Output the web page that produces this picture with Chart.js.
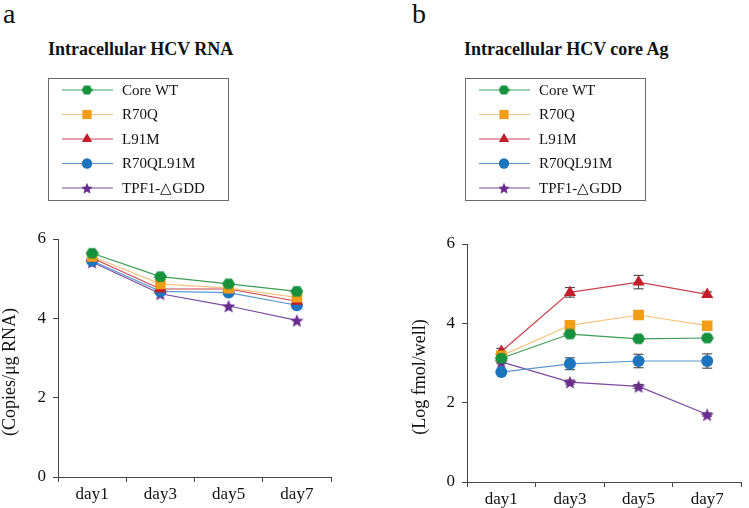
<!DOCTYPE html>
<html>
<head>
<meta charset="utf-8">
<script src="https://cdn.jsdelivr.net/npm/chart.js@4.4.1/dist/chart.umd.min.js"></script>
<style>
  body { margin: 0; background: #fff; }
  #wrap { position: relative; width: 749px; height: 508px; overflow: hidden; background: #fff; }
  canvas { position: absolute; top: 0; }
  .lbl { position: absolute; font-family: "Liberation Serif", "Times New Roman", serif; color: #111; line-height: 1; white-space: nowrap; }
  .letter { font-size: 28px; }
  .ttl { font-size: 18px; font-weight: bold; }
</style>
</head>
<body>
<div id="wrap">
  <div class="lbl letter" style="left:3px; top:0px;">a</div>
  <div class="lbl letter" style="left:412px; top:0px;">b</div>
  <div class="lbl ttl" style="left:48px; top:40px;">Intracellular HCV RNA</div>
  <div class="lbl ttl" style="left:464px; top:40px;">Intracellular HCV core Ag</div>
  <canvas id="chartA" width="374" height="508" style="left:0px;"></canvas>
  <canvas id="chartB" width="369" height="508" style="left:380px;"></canvas>
</div>
<script>
// ============================================================================
// Data
// ============================================================================
const days = ['day1', 'day3', 'day5', 'day7'];
const seriesNames = ['Core WT', 'R70Q', 'L91M', 'R70QL91M', 'TPF1-\u25B3GDD'];
const yTicks = [0, 2, 4, 6];

// panel a - intracellular HCV RNA
const rnaCoreWT   = [5.64, 5.05, 4.87, 4.68];
const rnaR70Q     = [5.56, 4.87, 4.76, 4.53];
const rnaL91M     = [5.52, 4.74, 4.74, 4.43];
const rnaR70QL91M = [5.45, 4.68, 4.65, 4.33];
const rnaTPF1     = [5.42, 4.62, 4.31, 3.95];

// panel b - intracellular HCV core Ag (mean, error)
const agCoreWT   = [3.12, 3.73, 3.61, 3.63];
const agR70Q     = [3.18, 3.95, 4.21, 3.94];
const agL91M     = [3.29, 4.78, 5.04, 4.73];
const agR70QL91M = [2.77, 2.98, 3.05, 3.05];
const agTPF1     = [3.03, 2.52, 2.41, 1.70];

const errCoreWT   = [0.05, 0.07, 0.07, 0.06];
const errR70Q     = [0.05, 0.07, 0.06, 0.10];
const errL91M     = [0.08, 0.12, 0.17, 0.06];
const errR70QL91M = [0.04, 0.15, 0.17, 0.18];
const errTPF1     = [0.04, 0.05, 0.05, 0.04];

// ============================================================================
// Styles
// ============================================================================
const markerColors = ['#16923e', '#f39c16', '#c21d2b', '#1b74bd', '#6a2c8e'];
const lineColors   = ['#3c9d55', '#f7c27c', '#c9434f', '#5b97cf', '#7b4a9f'];
const FONT = '"Liberation Serif", "Times New Roman", serif';
const AXIS = '#444';

function makeMarker(kind, color, size) {
    const c = document.createElement('canvas');
    c.width = size; c.height = size;
    const g = c.getContext('2d');
    const r = size / 2;
    g.fillStyle = color;
    g.beginPath();
    if (kind === 'hex') {
        for (let i = 0; i < 6; i++) {
            const a = Math.PI / 3 * i;
            g.lineTo(r + r * Math.cos(a), r + r * 0.95 * Math.sin(a));
        }
    } else if (kind === 'star') {
        for (let i = 0; i < 10; i++) {
            const a = -Math.PI / 2 + Math.PI / 5 * i;
            const rr = i % 2 === 0 ? r : r * 0.45;
            g.lineTo(r + rr * Math.cos(a), r + 0.8 + rr * Math.sin(a));
        }
    }
    g.closePath();
    g.fill();
    return c;
}

// marker style + radius per series
function pointStyles(hexSize, starSize) {
    return [makeMarker('hex', markerColors[0], hexSize), 'rect', 'triangle', 'circle', makeMarker('star', markerColors[4], starSize)];
}
const chartRadius  = [6, 7.5, 7, 6, 6];
const legendRadius = [5, 6.5, 6, 5.2, 5];

// ============================================================================
// Plugins
// ============================================================================
const errorBarPlugin = {
    id: 'errorBars',
    beforeDatasetsDraw(chart, args, opts) {
        if (!opts.errors) return;
        const ctx = chart.ctx;
        const y = chart.scales.y;
        ctx.save();
        ctx.strokeStyle = '#333';
        ctx.lineWidth = 1;
        chart.data.datasets.forEach((ds, di) => {
            const errs = opts.errors[di];
            chart.getDatasetMeta(di).data.forEach((pt, i) => {
                const v = ds.data[i];
                const top = y.getPixelForValue(v + errs[i]);
                const bot = y.getPixelForValue(v - errs[i]);
                ctx.beginPath();
                ctx.moveTo(pt.x, top); ctx.lineTo(pt.x, bot);
                ctx.moveTo(pt.x - 5, top); ctx.lineTo(pt.x + 5, top);
                ctx.moveTo(pt.x - 5, bot); ctx.lineTo(pt.x + 5, bot);
                ctx.stroke();
            });
        });
        ctx.restore();
    }
};

const decorPlugin = {
    id: 'decor',
    afterDraw(chart, args, opts) {
        const ctx = chart.ctx;
        ctx.save();
        // legend box
        const bx = opts.boxX, by = 78, bw = 180, bh = 122;
        ctx.strokeStyle = '#6a6a6a';
        ctx.lineWidth = 1;
        ctx.strokeRect(bx + 0.5, by + 0.5, bw, bh);
        const rows = [90, 114.5, 139, 163.5, 188];
        chart.data.datasets.forEach((ds, i) => {
            const ry = rows[i];
            ctx.strokeStyle = ds.borderColor;
            ctx.lineWidth = 1;
            ctx.beginPath();
            ctx.moveTo(bx + 14, ry); ctx.lineTo(bx + 65, ry);
            ctx.stroke();
            ctx.fillStyle = markerColors[i];
            Chart.helpers.drawPoint(ctx, {
                pointStyle: opts.legendStyles[i],
                radius: legendRadius[i], rotation: 0, borderWidth: 0
            }, bx + 39, ry);
            ctx.fillStyle = '#111';
            ctx.font = '15px ' + FONT;
            ctx.textBaseline = 'middle';
            ctx.textAlign = 'left';
            ctx.fillText(ds.label, bx + 74, ry + 1);
        });
        // y axis title
        ctx.translate(opts.titleX, opts.titleY);
        ctx.rotate(-Math.PI / 2);
        ctx.fillStyle = '#111';
        ctx.font = '18px ' + FONT;
        ctx.textAlign = 'center';
        ctx.textBaseline = 'middle';
        ctx.fillText(opts.yTitle, 0, 0);
        ctx.restore();
    }
};

// ============================================================================
// Chart builder
// ============================================================================
function buildChart(canvasId, values, cfg) {
    const styles = pointStyles(13, 14);
    const datasets = values.map((vals, i) => ({
        label: seriesNames[i],
        data: vals,
        borderColor: lineColors[i],
        backgroundColor: markerColors[i],
        borderWidth: 1.2,
        pointStyle: styles[i],
        pointRadius: chartRadius[i],
        pointHoverRadius: chartRadius[i],
        pointBorderWidth: 0,
        pointBackgroundColor: markerColors[i],
        tension: 0
    }));

    return new Chart(document.getElementById(canvasId), {
        type: 'line',
        data: { labels: days, datasets },
        plugins: [errorBarPlugin, decorPlugin],
        options: {
            responsive: false,
            animation: false,
            layout: { padding: { left: cfg.padLeft, right: cfg.padRight, top: cfg.padTop, bottom: 0 } },
            plugins: {
                legend: { display: false },
                tooltip: { enabled: false },
                errorBars: { errors: cfg.errors },
                decor: {
                    boxX: cfg.boxX,
                    legendStyles: pointStyles(11, 12),
                    yTitle: cfg.yTitle,
                    titleX: cfg.titleX,
                    titleY: cfg.titleY
                }
            },
            scales: {
                x: {
                    offset: true,
                    afterFit: (s) => { s.height = cfg.xHeight; },
                    grid: { offset: true, drawOnChartArea: false, drawTicks: true, tickLength: 5, color: AXIS },
                    border: { display: true, color: AXIS, width: 1 },
                    ticks: { color: '#111', font: { family: FONT, size: 17 }, padding: 2 }
                },
                y: {
                    min: 0,
                    max: 6,
                    afterFit: (s) => { s.width = 58; },
                    afterBuildTicks: (s) => { s.ticks = yTicks.map(v => ({ value: v })); },
                    grid: { drawOnChartArea: false, drawTicks: true, tickLength: 5, color: AXIS },
                    border: { display: true, color: AXIS, width: 1 },
                    ticks: { color: '#111', font: { family: FONT, size: 17 }, padding: 7 }
                }
            }
        }
    });
}

buildChart('chartA', [rnaCoreWT, rnaR70Q, rnaL91M, rnaR70QL91M, rnaTPF1], {
    padLeft: 0, padRight: 43, padTop: 239, xHeight: 31,
    boxX: 48, yTitle: '(Copies/\u03BCg RNA)', titleX: 10, titleY: 372,
    errors: null
});

buildChart('chartB', [agCoreWT, agR70Q, agL91M, agR70QL91M, agTPF1], {
    padLeft: 29, padRight: 2, padTop: 244, xHeight: 26,
    boxX: 85, yTitle: '(Log fmol/well)', titleX: 40, titleY: 377,
    errors: [errCoreWT, errR70Q, errL91M, errR70QL91M, errTPF1]
});
</script>
</body>
</html>
